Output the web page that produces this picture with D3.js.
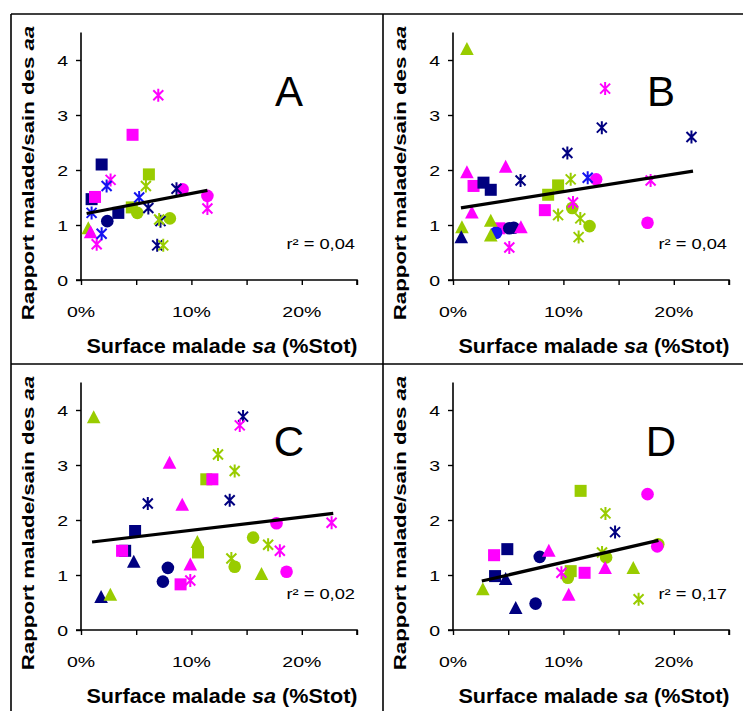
<!DOCTYPE html>
<html><head><meta charset="utf-8">
<script src="https://cdn.jsdelivr.net/npm/d3@7"></script>
<style>body{margin:0;background:#fff} svg text{font-family:"Liberation Sans",Arial,sans-serif}</style>
</head><body><svg id="c" width="743" height="711"></svg>
<script>
// ---------- data ----------
const panelNames = ["A", "B", "C", "D"];
const r2Labels = ["r² = 0,04", "r² = 0,04", "r² = 0,02", "r² = 0,17"];
const xTickValues = [0, 5, 10, 15, 20, 25];
const xTickLabels = ["0%", "", "10%", "", "20%", ""];
const yTickValues = [0, 1, 2, 3, 4];
const yTickLabels = ["0", "1", "2", "3", "4"];
const xLabelParts = ["Surface malade ", "sa", " (%Stot)"];
const yLabelParts = ["Rapport malade/sain des ", "aa"];

// [colour key, shape, sa (%), ratio]
const pointsA = [
  ["navy","square",1.87,2.10],["navy","square",0.96,1.47],["navy","square",3.38,1.22],
  ["magenta","square",1.27,1.51],["magenta","square",4.67,2.64],
  ["green","square",6.15,1.92],["green","square",4.6,1.32],
  ["navy","circle",2.38,1.07],
  ["green","circle",5.1,1.22],["green","circle",8.05,1.12],
  ["magenta","circle",9.2,1.65],["magenta","circle",11.45,1.53],
  ["green","triangle",0.66,0.93],["magenta","triangle",0.87,0.86],
  ["magenta","star",7.0,3.36],["magenta","star",2.68,1.82],["magenta","star",1.42,0.65],["magenta","star",11.45,1.30],
  ["blue","star",2.32,1.71],["blue","star",5.27,1.50],["blue","star",1.87,0.84],["blue","star",0.96,1.22],
  ["navy","star",8.65,1.66],["navy","star",6.1,1.31],["navy","star",7.2,1.07],["navy","star",6.9,0.63],
  ["green","star",5.88,1.71],["green","star",7.08,1.10],["green","star",7.45,0.63]
];
const pointsB = [
  ["magenta","square",1.86,1.71],["navy","square",2.76,1.77],["navy","square",3.42,1.64],
  ["magenta","square",4.2,0.94],["magenta","square",8.32,1.27],
  ["green","square",8.62,1.55],["green","square",9.52,1.72],
  ["blue","circle",3.9,0.86],["navy","circle",5.1,0.94],["navy","circle",5.5,0.95],
  ["green","circle",10.8,1.31],["green","circle",12.37,0.98],
  ["magenta","circle",12.97,1.83],["magenta","circle",17.62,1.04],
  ["green","triangle",1.26,4.19],["magenta","triangle",1.26,1.95],["magenta","triangle",4.77,2.05],
  ["magenta","triangle",1.71,1.22],["magenta","triangle",6.15,0.95],["green","triangle",0.81,0.95],
  ["navy","triangle",0.75,0.77],["green","triangle",3.42,1.07],["green","triangle",3.42,0.80],
  ["navy","star",6.12,1.81],["navy","star",10.36,2.31],["navy","star",13.48,2.77],["navy","star",21.6,2.60],
  ["blue","star",12.2,1.86],
  ["magenta","star",13.78,3.48],["magenta","star",17.9,1.81],["magenta","star",10.87,1.41],["magenta","star",5.1,0.59],
  ["green","star",10.66,1.83],["green","star",9.52,1.18],["green","star",11.53,1.12],["green","star",11.38,0.78]
];
const pointsC = [
  ["green","square",11.35,2.74],["magenta","square",11.9,2.74],["navy","square",4.9,1.80],
  ["green","square",10.6,1.41],["navy","square",4.0,1.44],["magenta","square",3.72,1.44],["magenta","square",9.02,0.83],
  ["magenta","circle",17.71,1.94],["green","circle",15.59,1.68],["navy","circle",7.87,1.13],
  ["navy","circle",7.42,0.88],["green","circle",13.92,1.15],["magenta","circle",18.62,1.06],
  ["green","triangle",1.15,3.86],["magenta","triangle",8.02,3.03],["magenta","triangle",9.17,2.27],
  ["green","triangle",10.54,1.59],["navy","triangle",4.78,1.23],["magenta","triangle",9.9,1.18],
  ["green","triangle",16.35,1.01],["navy","triangle",1.82,0.59],["green","triangle",2.66,0.63],
  ["navy","star",14.68,3.88],["magenta","star",14.38,3.72],["green","star",12.41,3.19],["green","star",13.92,2.89],
  ["navy","star",6.05,2.30],["navy","star",13.47,2.36],["magenta","star",22.7,1.95],["green","star",16.95,1.55],
  ["magenta","star",18.01,1.44],["magenta","star",9.9,0.90],["green","star",13.62,1.30]
];
const pointsD = [
  ["green","square",11.56,2.53],["magenta","square",3.72,1.36],["navy","square",4.92,1.47],
  ["green","square",10.66,1.07],["magenta","square",11.92,1.04],["navy","square",3.81,0.98],
  ["magenta","circle",17.62,2.47],["green","circle",18.59,1.56],["magenta","circle",18.5,1.52],
  ["navy","circle",7.86,1.33],["green","circle",13.87,1.32],["green","circle",10.4,0.95],["navy","circle",7.48,0.48],
  ["magenta","triangle",8.68,1.43],["magenta","triangle",13.78,1.12],["green","triangle",16.33,1.12],
  ["navy","triangle",4.77,0.92],["green","triangle",2.7,0.73],["magenta","triangle",10.48,0.63],["navy","triangle",5.68,0.39],
  ["green","star",13.81,2.12],["navy","star",14.68,1.78],["green","star",13.5,1.41],
  ["magenta","star",9.82,1.04],["green","star",16.81,0.56]
];
const trendA = [[0.51,1.21],[11.45,1.63]];
const trendB = [[0.72,1.31],[21.74,1.98]];
const trendC = [[1.0,1.60],[22.85,2.12]];
const trendD = [[2.61,0.89],[18.61,1.63]];

// ---------- styles / layout ----------
const colors = {navy:"#000080", blue:"#1414f0", magenta:"#ff00ff", green:"#99cc00"};
const allPoints = [pointsA, pointsB, pointsC, pointsD];
const allTrends = [trendA, trendB, trendC, trendD];
const boxOrigins = [[11,14],[383,14],[11,364],[383,364]];
const plotOff = [70, 266];
const plotW = 276, plotH = 247.5;
const svg = d3.select("#c");
const TX = 1.3;

// frame
svg.append("g").attr("stroke","#000").attr("stroke-width",1.6)
  .selectAll("line").data([[11,14,743,14],[11,14,11,711],[383,14,383,711],[11,364,743,364]])
  .join("line").attr("x1",d=>d[0]).attr("y1",d=>d[1]).attr("x2",d=>d[2]).attr("y2",d=>d[3]);

function stretched(g, x, y, parts, opts) {
  const t = g.append("text")
    .attr("transform", `translate(${x},${y})${opts.rot?" rotate(-90)":""} scale(${opts.sx},1)`)
    .attr("text-anchor", opts.anchor || "middle")
    .attr("font-size", opts.size)
    .attr("font-weight", opts.weight || "normal")
    .attr("fill", "#000");
  parts.forEach((p, i) => {
    t.append("tspan").text(p).attr("font-style", (opts.italic && opts.italic.includes(i)) ? "italic" : "normal");
  });
  return t;
}

function marker(g, shape, color) {
  if (shape === "square") {
    g.append("rect").attr("x",-6).attr("y",-6).attr("width",12).attr("height",12).attr("fill",color);
  } else if (shape === "circle") {
    g.append("circle").attr("r",6.3).attr("fill",color);
  } else if (shape === "triangle") {
    g.append("path").attr("d","M0,-7.5L6.8,5.5L-6.8,5.5Z").attr("fill",color);
  } else {
    g.append("path").attr("d","M-5,-5L5,5M-5,5L5,-5M0,-6.5L0,6.5")
      .attr("stroke",color).attr("stroke-width",2).attr("fill","none");
  }
}

panelNames.forEach((name, pi) => {
  const ox = boxOrigins[pi][0] + plotOff[0];
  const oy = boxOrigins[pi][1] + plotOff[1];
  const x = d3.scaleLinear().domain([0, 25]).range([ox, ox + plotW]);
  const y = d3.scaleLinear().domain([0, 4.5]).range([oy, oy - plotH]);
  const g = svg.append("g");

  // axes
  const xa = g.append("g").attr("transform", `translate(0,${oy})`)
    .call(d3.axisBottom(x).tickValues(xTickValues).tickSize(5).tickFormat(""));
  const ya = g.append("g").attr("transform", `translate(${ox},0)`)
    .call(d3.axisLeft(y).tickValues(yTickValues).tickSize(5).tickFormat(""));
  [xa, ya].forEach(a => {
    a.select(".domain").attr("stroke","#000").attr("stroke-width",1.6);
    a.selectAll(".tick line").attr("stroke","#000").attr("stroke-width",1.4);
  });
  ya.select(".domain").attr("d", `M-5,${y(0)}H0V${y(4.5)}`);
  xa.select(".domain").attr("d", `M${x(0)},0H${x(25)}V5`);

  xTickValues.forEach((v, i) => {
    if (xTickLabels[i]) stretched(g, x(v), oy + 37, [xTickLabels[i]], {sx: TX, size: 15});
  });
  yTickValues.forEach((v, i) => {
    stretched(g, ox - 13, y(v) + 5.5, [yTickLabels[i]], {sx: TX, size: 15, anchor: "end"});
  });

  // axis titles
  stretched(g, ox + plotW / 2 + 3, oy + 73, xLabelParts, {sx: 1.08, size: 20, weight: "bold", italic: [1]});
  stretched(g, ox - 47, oy - 107, yLabelParts, {sx: 1.35, size: 16.5, weight: "bold", italic: [1], rot: true});

  // panel letter & r2
  g.append("text").attr("x", ox + 208).attr("y", oy - 174).attr("text-anchor","middle")
    .attr("font-size", 42).text(name);
  stretched(g, ox + 274, oy - 31, [r2Labels[pi]], {sx: 1.22, size: 15, anchor: "end"});

  // points
  const pts = g.append("g");
  allPoints[pi].forEach(d => {
    const m = pts.append("g").attr("transform", `translate(${x(d[2])},${y(d[3])})`);
    marker(m, d[1], colors[d[0]]);
  });

  // trend line
  g.append("path").datum(allTrends[pi])
    .attr("d", d3.line().x(d => x(d[0])).y(d => y(d[1])))
    .attr("stroke","#000").attr("stroke-width",3.2).attr("fill","none");
});
</script></body></html>
